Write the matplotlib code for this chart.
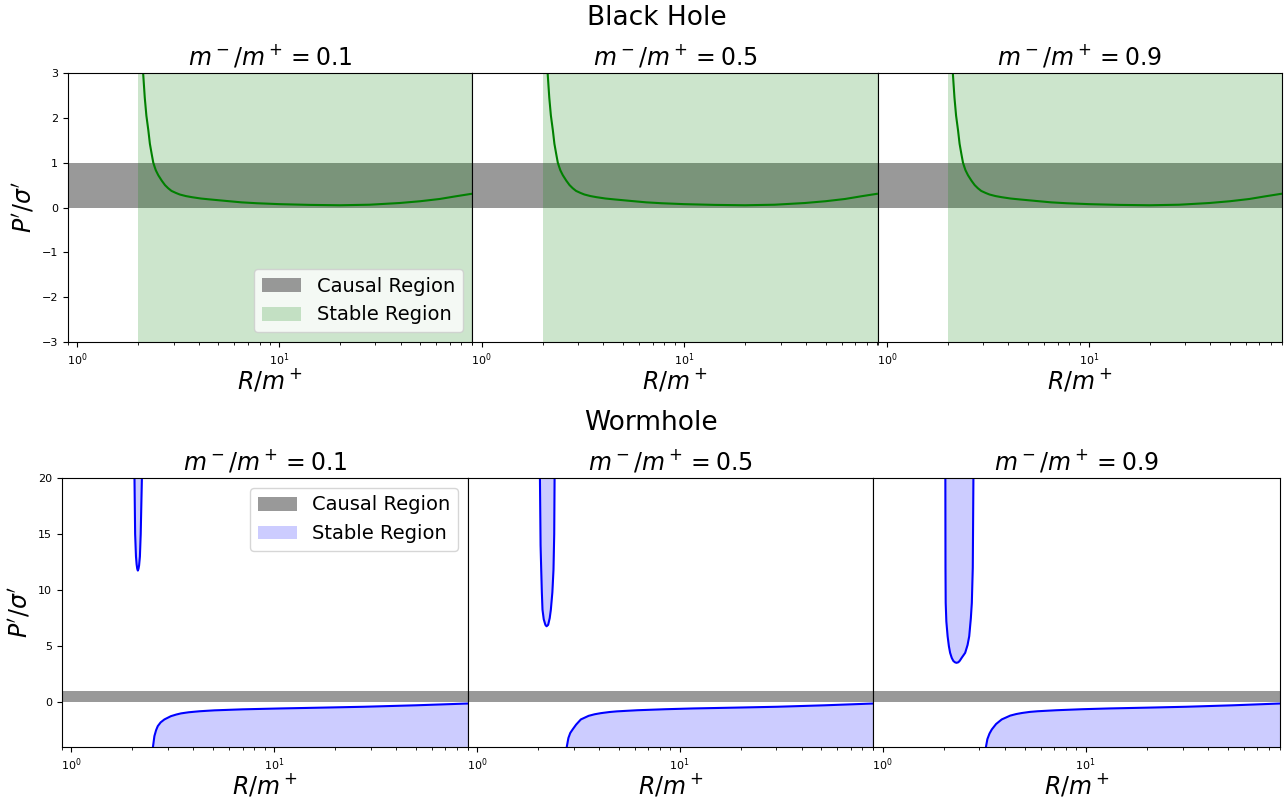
import matplotlib
matplotlib.use("Agg")
import matplotlib.pyplot as plt

W, H = 1288, 798

ratios = [0.1, 0.5, 0.9]

# Black hole: P'/sigma' vs R/m+ (same curve for all three ratios)
bh_R = [2.03, 2.06, 2.09, 2.12, 2.16, 2.20, 2.25, 2.29, 2.34, 2.38, 2.42, 2.45,
        2.52, 2.62, 2.72, 2.82, 2.93, 3.08, 3.22, 3.45, 3.7, 4.1, 4.54, 5.5,
        6.5, 7.76, 10.0, 14.2, 20.0, 28.0, 39.5, 50.0, 62.4, 75.0, 89.6]
bh_P = [12.0, 6.0, 4.0, 3.0, 2.45, 2.05, 1.72, 1.42, 1.18, 1.0, 0.9, 0.83,
        0.72, 0.60, 0.50, 0.43, 0.37, 0.325, 0.29, 0.255, 0.23, 0.20, 0.18, 0.145,
        0.115, 0.095, 0.075, 0.058, 0.05, 0.062, 0.10, 0.14, 0.19, 0.25, 0.305]
bh_stable_from = 2.0

# Wormhole: upper (U-shaped) branch per ratio
wh_up_R = [
    [2.045, 2.05, 2.065, 2.085, 2.10, 2.115, 2.13, 2.145, 2.16, 2.18, 2.20, 2.23, 2.235],
    [2.035, 2.04, 2.055, 2.07, 2.085, 2.10, 2.13, 2.17, 2.20, 2.24, 2.28, 2.31,
     2.35, 2.38, 2.40, 2.41, 2.415],
    [2.035, 2.037, 2.04, 2.045, 2.06, 2.09, 2.12, 2.15, 2.19, 2.23, 2.27, 2.31,
     2.36, 2.40, 2.45, 2.55, 2.62, 2.67, 2.72, 2.75, 2.78, 2.80, 2.805],
]
wh_up_P = [
    [22.0, 20.0, 15.0, 13.0, 12.3, 11.9, 11.74, 11.9, 12.2, 13.0, 15.0, 20.0, 22.0],
    [22.0, 20.0, 14.0, 11.8, 9.8, 8.26, 7.4, 6.9, 6.77, 6.9, 7.5, 8.26,
     9.8, 11.8, 15.0, 20.0, 22.0],
    [22.0, 20.0, 12.0, 8.86, 7.2, 5.88, 5.0, 4.4, 3.95, 3.68, 3.56, 3.51,
     3.56, 3.7, 3.95, 4.4, 5.1, 5.88, 7.5, 8.86, 12.0, 20.0, 22.0],
]

# Wormhole: lower branch per ratio
wh_lo_R = [
    [2.50, 2.53, 2.57, 2.62, 2.67, 2.76, 2.88, 3.10, 3.30, 3.48, 3.80, 4.30,
     5.08, 7.0, 10.8, 17.0, 27.8, 50.0, 90.5],
    [2.74, 2.77, 2.82, 2.88, 2.96, 3.08, 3.25, 3.55, 3.80, 4.08, 4.50, 4.9,
     6.18, 8.5, 11.7, 18.5, 30.3, 52.0, 90.5],
    [3.20, 3.23, 3.28, 3.36, 3.45, 3.62, 3.86, 4.25, 4.55, 4.84, 5.3, 5.8,
     7.18, 9.6, 13.1, 20.0, 31.2, 53.0, 90.5],
]
wh_lo_P = [
    [-5.0, -3.96, -3.03, -2.5, -2.14, -1.8, -1.54, -1.25, -1.1, -1.0, -0.9, -0.81,
     -0.73, -0.64, -0.56, -0.49, -0.41, -0.28, -0.12],
    [-5.0, -3.96, -3.2, -2.75, -2.43, -2.0, -1.54, -1.22, -1.08, -0.98, -0.88, -0.82,
     -0.72, -0.63, -0.56, -0.49, -0.41, -0.28, -0.12],
    [-5.0, -3.96, -3.3, -2.8, -2.43, -1.95, -1.54, -1.2, -1.06, -0.97, -0.87, -0.81,
     -0.72, -0.63, -0.56, -0.49, -0.41, -0.28, -0.12],
]

causal = (0, 1)
xlim = (0.9, 90.5)


def px_axes(fig, left, top, right, bottom):
    return fig.add_axes([left / W, 1 - bottom / H, (right - left) / W, (bottom - top) / H])


def style(ax, q, first):
    ax.set_xscale("log")
    ax.set_xlim(*xlim)
    ax.tick_params(labelsize=8)
    ax.set_title(rf"$m^-/m^+ = {q}$", fontsize=17)
    ax.set_xlabel(r"$R/m^+$", fontsize=17, labelpad=-1)
    if first:
        ax.set_ylabel(r"$P'/\sigma'$", fontsize=17)
    else:
        ax.tick_params(axis="y", left=False, labelleft=False)


fig = plt.figure(figsize=(W / 100, H / 100), dpi=100)

# ---- Black hole row
top_edges = [68, 472.3, 877.7, 1282]
for i, q in enumerate(ratios):
    ax = px_axes(fig, top_edges[i], 73, top_edges[i + 1], 342)
    ax.axhspan(causal[0], causal[1], color="gray", alpha=0.8, lw=0, label="Causal Region")
    ax.axvspan(bh_stable_from, 1000, color="green", alpha=0.2, lw=0, label="Stable Region")
    ax.plot(bh_R, bh_P, color="green", lw=1.5)
    ax.set_ylim(-3, 3)
    ax.set_yticks([-3, -2, -1, 0, 1, 2, 3])
    style(ax, q, i == 0)
    if i == 0:
        ax.legend(loc="lower right", fontsize=14)

# ---- Wormhole row
bot_edges = [62, 468, 873.3, 1280]
for i, q in enumerate(ratios):
    ax = px_axes(fig, bot_edges[i], 478, bot_edges[i + 1], 747)
    ax.axhspan(causal[0], causal[1], color="gray", alpha=0.8, lw=0, label="Causal Region")
    ax.fill_between(wh_up_R[i], wh_up_P[i], 40, color="blue", alpha=0.2, lw=0,
                    label="Stable Region")
    ax.fill_between(wh_lo_R[i], wh_lo_P[i], -40, color="blue", alpha=0.2, lw=0)
    ax.plot(wh_up_R[i], wh_up_P[i], color="blue", lw=1.5)
    ax.plot(wh_lo_R[i], wh_lo_P[i], color="blue", lw=1.5)
    ax.set_ylim(-4, 20)
    ax.set_yticks([0, 5, 10, 15, 20])
    style(ax, q, i == 0)
    if i == 0:
        ax.legend(loc="upper right", fontsize=14)

fig.text(657 / W, 1 - 18 / H, "Black Hole", ha="center", va="center", fontsize=19)
fig.text(651 / W, 1 - 423 / H, "Wormhole", ha="center", va="center", fontsize=19)

fig.savefig("out.png", dpi=100)
